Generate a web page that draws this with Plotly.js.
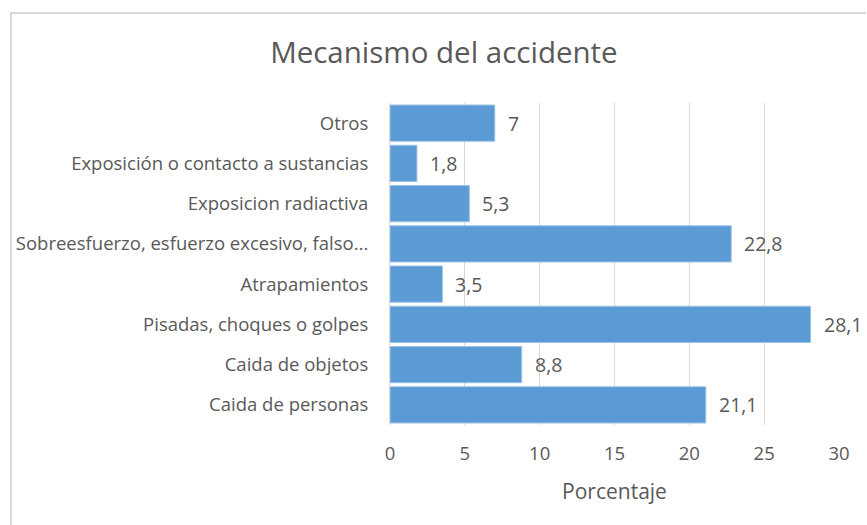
<!DOCTYPE html>
<html>
<head>
<meta charset="utf-8">
<script src="https://cdn.plot.ly/plotly-3.0.1.min.js"></script>
<style>
html,body{margin:0;padding:0;background:#fff;}
#wrap{position:relative;width:867px;height:525px;overflow:hidden;}
#chart{width:867px;height:525px;}
.bl{position:absolute;left:10px;top:12px;width:2px;height:513px;background:#d9d9d9;}
.bt{position:absolute;left:10px;top:12px;width:856px;height:2px;background:#d9d9d9;}
</style>
</head>
<body>
<div id="wrap">
<div id="chart"></div>
<div class="bl"></div>
<div class="bt"></div>
</div>
<script>
const categories = [
  "Caida de personas",
  "Caida de objetos",
  "Pisadas, choques o golpes",
  "Atrapamientos",
  "Sobreesfuerzo, esfuerzo excesivo, falso...",
  "Exposicion radiactiva",
  "Exposición o contacto a sustancias",
  "Otros"
];
const values = [21.1, 8.8, 28.1, 3.5, 22.8, 5.3, 1.8, 7];
const xTicks = [0, 5, 10, 15, 20, 25, 30];

const FONT = "'Open Sans', sans-serif";
const GRAY = "#595959";

const trace = {
  type: "bar",
  orientation: "h",
  x: values,
  y: categories,
  marker: {color: "#5b9bd5", line: {color: "#9dc3e6", width: 1}},
  hoverinfo: "none",
  cliponaxis: false
};

const annotations = values.map((v, i) => ({
  x: v, y: categories[i], xref: "x", yref: "y",
  text: String(v).replace(".", ","),
  showarrow: false, xanchor: "left", xshift: 11,
  font: {family: FONT, size: 19.5, color: GRAY}
}));

const layout = {
  width: 867, height: 525,
  margin: {l: 390, r: 28, t: 103, b: 100},
  paper_bgcolor: "#fff", plot_bgcolor: "#fff",
  showlegend: false,
  title: {text: "Mecanismo del accidente", x: 0.512, xref: "container", y: 0.9, yref: "container",
          xanchor: "center", yanchor: "middle",
          font: {family: FONT, size: 29.5, color: GRAY}},
  bargap: 0.1,
  separators: ",.",
  xaxis: {
    range: [0, 30], tickvals: xTicks, ticktext: xTicks.map(String),
    showgrid: true, gridcolor: "#d9d9d9", gridwidth: 1,
    zeroline: false, showline: false, ticks: "",
    ticklabelstandoff: 15,
    tickfont: {family: FONT, size: 18.5, color: GRAY},
    title: {text: "Porcentaje", standoff: 20, font: {family: FONT, size: 21, color: GRAY}},
    fixedrange: true
  },
  yaxis: {
    type: "category", categoryorder: "array", categoryarray: categories,
    showgrid: false, zeroline: false,
    showline: true, linecolor: "#d9d9d9", linewidth: 1,
    ticks: "", ticklabelstandoff: 17,
    tickfont: {family: FONT, size: 18.5, color: GRAY},
    fixedrange: true
  },
  annotations: annotations
};

Plotly.newPlot("chart", [trace], layout, {displayModeBar: false, staticPlot: true});
</script>
</body>
</html>
